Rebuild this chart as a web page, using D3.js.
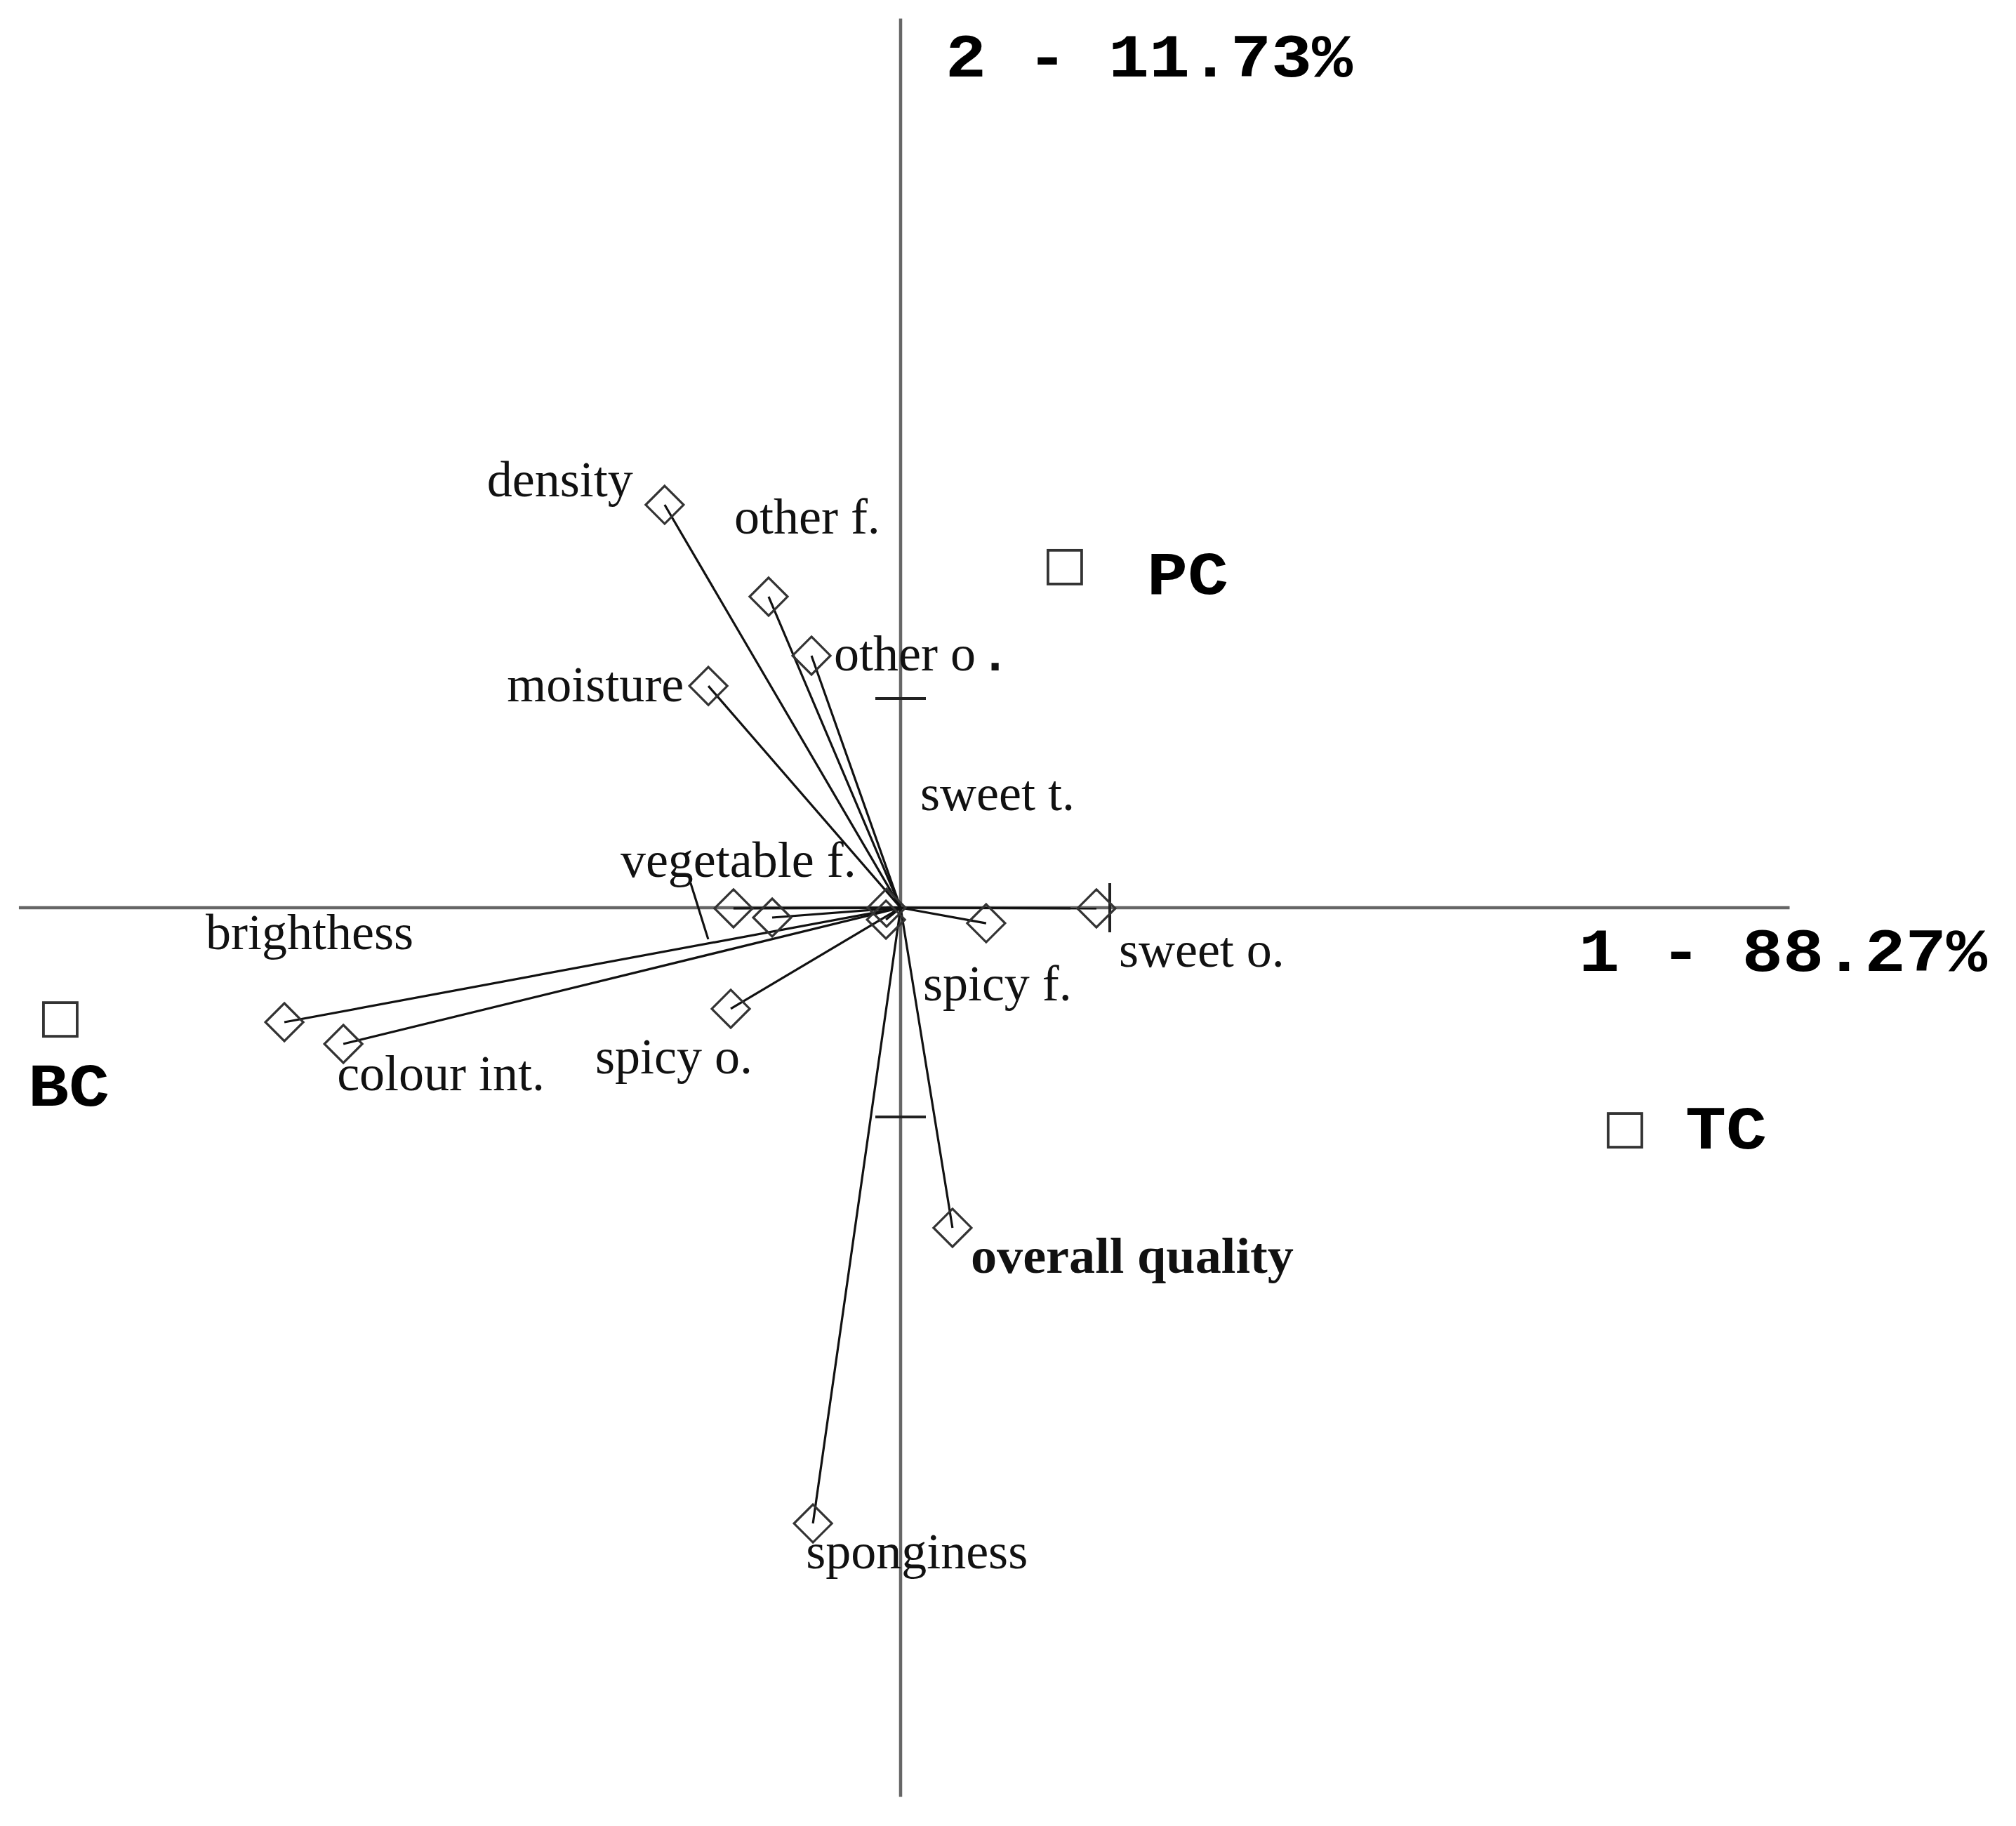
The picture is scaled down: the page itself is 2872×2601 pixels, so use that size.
<!DOCTYPE html>
<html><head><meta charset="utf-8">
<script src="https://cdn.jsdelivr.net/npm/d3@7"></script>
<style>html,body{margin:0;padding:0;background:#fff;}</style>
</head><body>
<script>
// ---- data (PCA units) ----
const varNames = ["density","other f.","other o.","moisture","vegetable f.","unlabelled 1","sweet t.","unlabelled 2","brighthess","colour int.","spicy o.","spicy f.","sweet o.","overall quality","sponginess"];
const varX = [-1.128,-0.631,-0.426,-0.919,-0.799,-0.614,-0.067,-0.070,-2.946,-2.664,-0.812,0.409,0.936,0.248,-0.419];
const varY = [1.926,1.487,1.205,1.060,-0.003,-0.047,0.0,-0.057,-0.547,-0.651,-0.483,-0.074,-0.003,-1.530,-2.943];
const sampleNames = ["PC","BC","TC"];
const sampleX = [0.785,-4.017,3.463];
const sampleY = [1.628,-0.534,-1.064];
const axisXRange = [-4.215,4.25];
const axisYRange = [-4.25,4.25];
const xTicks = [1];
const yTicks = [-1,1];
const axisTitles = ["1 - 88.27%","2 - 11.73%"];

// ---- layout ----
const W = 2872, H = 2601;
const svg = d3.select("body").append("svg").attr("width",W).attr("height",H);
const x = d3.scaleLinear().domain([0,1]).range([1283,1581]);
const y = d3.scaleLinear().domain([0,1]).range([1293,995]);

// label offsets (px, relative to marker) & anchors
const labelPos = {
  "density":[-45,-12,"end"],
  "other f.":[-49,-90,"start"],
  "other o.":[32,21,"start"],
  "moisture":[-35,22,"end"],
  "vegetable f.":[-161,-45,"start"],
  "sweet t.":[48,-139,"start"],
  "brighthess":[-112,-104,"start"],
  "colour int.":[-9,66,"start"],
  "spicy o.":[-193,92,"start"],
  "spicy f.":[-90,110,"start"],
  "sweet o.":[32,83,"start"],
  "overall quality":[26,64,"start"],
  "sponginess":[-10,64,"start"]
};
const sampleLabelPos = {"PC":[117,38],"BC":[-46,123],"TC":[86,26]};

const g = svg.append("g");
// axes
g.append("line").attr("x1",x(axisXRange[0])).attr("x2",x(axisXRange[1])).attr("y1",y(0)).attr("y2",y(0))
  .attr("stroke","#666").attr("stroke-width",4.5);
g.append("line").attr("x1",x(0)).attr("x2",x(0)).attr("y1",y(axisYRange[1])).attr("y2",y(axisYRange[0]))
  .attr("stroke","#666").attr("stroke-width",4.5);
// ticks
g.selectAll(".xt").data(xTicks).enter().append("line")
  .attr("x1",d=>x(d)).attr("x2",d=>x(d)).attr("y1",y(0)-35).attr("y2",y(0)+35)
  .attr("stroke","#222").attr("stroke-width",4);
g.selectAll(".yt").data(yTicks).enter().append("line")
  .attr("y1",d=>y(d)).attr("y2",d=>y(d)).attr("x1",x(0)-36).attr("x2",x(0)+36)
  .attr("stroke","#222").attr("stroke-width",4);

const vars = varNames.map((n,i)=>({name:n,x:varX[i],y:varY[i]}));
// vectors
g.selectAll(".vec").data(vars).enter().append("line")
  .attr("x1",x(0)).attr("y1",y(0)).attr("x2",d=>x(d.x)).attr("y2",d=>y(d.y))
  .attr("stroke","#111").attr("stroke-width",3.2);
// diamonds
const ds = 27;
g.selectAll(".dia").data(vars).enter().append("path")
  .attr("d",d=>{const cx=x(d.x), cy=y(d.y);return `M${cx},${cy-ds}L${cx+ds},${cy}L${cx},${cy+ds}L${cx-ds},${cy}Z`;})
  .attr("fill","none").attr("stroke","#333").attr("stroke-width",3.2);

// leader for vegetable f.
const veg = vars.find(v=>v.name==="vegetable f.");
g.append("line").attr("x1",x(veg.x)-61).attr("y1",y(veg.y)-36).attr("x2",x(veg.x)-36).attr("y2",y(veg.y)+44)
  .attr("stroke","#111").attr("stroke-width",3.2);

// variable labels
vars.filter(d=>labelPos[d.name]).forEach(d=>{
  const p = labelPos[d.name];
  const t = g.append("text").attr("x",x(d.x)+p[0]).attr("y",y(d.y)+p[1])
    .attr("text-anchor",p[2])
    .attr("font-family","'Liberation Serif','Times New Roman',serif")
    .attr("font-size",72).attr("fill","#111")
    .attr("font-weight",d.name==="overall quality"?"bold":"normal");
  if(d.name==="other o."){
    t.append("tspan").text("other o");
    t.append("tspan").attr("dx",6).attr("font-family","'Liberation Mono',monospace").attr("font-weight","bold").text(".");
  } else if(d.name==="overall quality"){
    t.attr("textLength",460).attr("lengthAdjust","spacingAndGlyphs").text(d.name);
  } else t.text(d.name);
});

// samples
const samples = sampleNames.map((n,i)=>({name:n,x:sampleX[i],y:sampleY[i]}));
const ss = 24;
g.selectAll(".sq").data(samples).enter().append("rect")
  .attr("x",d=>x(d.x)-ss).attr("y",d=>y(d.y)-ss).attr("width",2*ss).attr("height",2*ss)
  .attr("fill","none").attr("stroke","#333").attr("stroke-width",3.8);
g.selectAll(".sql").data(samples).enter().append("text")
  .attr("x",d=>x(d.x)+sampleLabelPos[d.name][0]).attr("y",d=>y(d.y)+sampleLabelPos[d.name][1])
  .attr("font-family","'Liberation Mono',monospace").attr("font-weight","bold")
  .attr("font-size",88).attr("textLength",116).attr("lengthAdjust","spacingAndGlyphs")
  .attr("fill","#000").text(d=>d.name);

// axis titles
g.append("text").attr("x",2249).attr("y",y(0)+90)
  .attr("font-family","'Liberation Mono',monospace").attr("font-weight","bold")
  .attr("font-size",88).attr("textLength",582).attr("lengthAdjust","spacingAndGlyphs")
  .attr("fill","#000").text(axisTitles[0]);
g.append("text").attr("x",x(0)+64).attr("y",y(axisYRange[1])+82)
  .attr("font-family","'Liberation Mono',monospace").attr("font-weight","bold")
  .attr("font-size",88).attr("textLength",580).attr("lengthAdjust","spacingAndGlyphs")
  .attr("fill","#000").text(axisTitles[1]);
</script>
</body></html>
